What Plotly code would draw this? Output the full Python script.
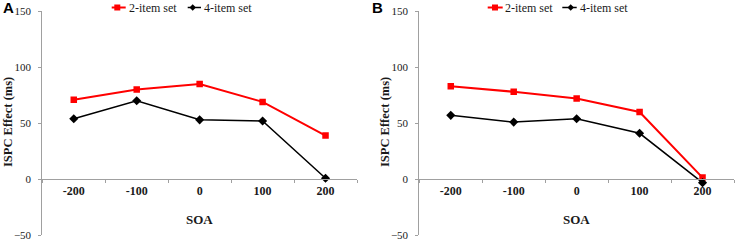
import plotly.graph_objects as go

# ---- data ----
soa = ["-200", "-100", "0", "100", "200"]
a_two_item = [71, 80, 85, 69, 39]
a_four_item = [54, 70, 53, 52, 1]
b_two_item = [83, 78, 72, 60, 1.5]
b_four_item = [57, 51, 54, 41, -3]
y_ticks = [-50, 0, 50, 100, 150]
series_names = ["2-item set", "4-item set"]

W, H = 737, 241
RED = "#FF0000"
BLACK = "#000000"
AXIS = "#A0A0A0"
TEXT = "#1a1a1a"
SERIF = "Liberation Serif, Times New Roman, serif"


def px(x):
    return x / W


def py(y):
    return 1 - y / H


fig = go.Figure()

panels = [
    ("x", "y", a_two_item, a_four_item),
    ("x2", "y2", b_two_item, b_four_item),
]
for xa, ya, two, four in panels:
    fig.add_trace(go.Scatter(
        x=soa, y=two, xaxis=xa, yaxis=ya, mode="lines+markers",
        name=series_names[0], showlegend=False,
        line=dict(color=RED, width=2),
        marker=dict(symbol="square", size=6.5, color=RED)))
    fig.add_trace(go.Scatter(
        x=soa, y=four, xaxis=xa, yaxis=ya, mode="lines+markers",
        name=series_names[1], showlegend=False,
        line=dict(color=BLACK, width=1.5),
        marker=dict(symbol="diamond", size=7, color=BLACK)))

y_dom = [py(235.4), py(11)]
x_pos = py(179.3)
x_doms = [[px(42.3), px(357)], [px(419.3), px(734)]]

common_x = dict(
    type="category", categoryorder="array", categoryarray=soa,
    range=[-0.5, 4.5], tickson="boundaries", ticks="outside", ticklen=3,
    tickcolor=AXIS, showline=True, linecolor=AXIS, linewidth=1,
    showgrid=False, zeroline=False, anchor="free", position=x_pos,
    tickfont=dict(family=SERIF, size=12, color=TEXT, weight="bold"),
    fixedrange=True, automargin=False, ticklabeloverflow="allow",
)
common_y = dict(
    range=[-50, 150], tickvals=y_ticks, ticks="outside", ticklen=3,
    tickcolor=AXIS, showline=True, linecolor=AXIS, linewidth=1,
    showgrid=False, zeroline=False, domain=y_dom,
    tickfont=dict(family=SERIF, size=11, color=TEXT),
    ticklabelstandoff=5, fixedrange=True, automargin=False,
    ticklabeloverflow="allow",
)

fig.update_layout(
    width=W, height=H,
    margin=dict(l=0, r=0, t=0, b=0, pad=0),
    plot_bgcolor="white", paper_bgcolor="white",
    showlegend=False,
    xaxis=dict(common_x, domain=x_doms[0]),
    yaxis=dict(common_y, anchor="x"),
    xaxis2=dict(common_x, domain=x_doms[1]),
    yaxis2=dict(common_y, anchor="x2"),
)

annotations = []
shapes = []
# panel letters, titles, legends
for label, x0, legend in [("A", 0, (111.7, 125.7, 117.3, 126.7, 187.7, 201, 192.7, 202)),
                           ("B", 369, (487.7, 502.7, 495, 503.3, 562.3, 576.7, 570.7, 578.3))]:
    annotations.append(dict(
        text="<b>%s</b>" % label, x=px(x0 + 1), y=py(8), xref="paper", yref="paper",
        xanchor="left", yanchor="middle", showarrow=False,
        font=dict(family="Liberation Sans, Arial, sans-serif", size=15, color=BLACK)))
    ax_left = 42.3 if label == "A" else 419.3
    annotations.append(dict(
        text="<b>ISPC Effect (ms)</b>", x=px(ax_left - 34.8), y=py(122.5),
        xref="paper", yref="paper", textangle=-90, showarrow=False,
        xanchor="center", yanchor="middle",
        font=dict(family=SERIF, size=12.5, color=TEXT)))
    annotations.append(dict(
        text="<b>SOA</b>", x=px(ax_left + (357 - 42.3) / 2), y=py(219),
        xref="paper", yref="paper", showarrow=False,
        xanchor="center", yanchor="middle",
        font=dict(family=SERIF, size=13, color=TEXT)))
    rl0, rl1, rm, rt, bl0, bl1, bm, bt = legend
    ly = 7.5
    # red legend sample
    shapes.append(dict(type="line", xref="paper", yref="paper",
                       x0=px(rl0), x1=px(rl1), y0=py(ly), y1=py(ly),
                       line=dict(color=RED, width=2)))
    shapes.append(dict(type="rect", xref="paper", yref="paper",
                       x0=px(rm - 3), x1=px(rm + 3), y0=py(ly - 3), y1=py(ly + 3),
                       fillcolor=RED, line=dict(width=0)))
    annotations.append(dict(
        text=series_names[0], x=px(rt), y=py(ly), xref="paper", yref="paper",
        xanchor="left", yanchor="middle", showarrow=False,
        font=dict(family=SERIF, size=12, color=TEXT)))
    # black legend sample
    shapes.append(dict(type="line", xref="paper", yref="paper",
                       x0=px(bl0), x1=px(bl1), y0=py(ly), y1=py(ly),
                       line=dict(color=BLACK, width=1.5)))
    d = 3.2
    shapes.append(dict(type="path", xref="paper", yref="paper",
                       path="M %f %f L %f %f L %f %f L %f %f Z" % (
                           px(bm - d), py(ly), px(bm), py(ly - d),
                           px(bm + d), py(ly), px(bm), py(ly + d)),
                       fillcolor=BLACK, line=dict(width=0)))
    annotations.append(dict(
        text=series_names[1], x=px(bt), y=py(ly), xref="paper", yref="paper",
        xanchor="left", yanchor="middle", showarrow=False,
        font=dict(family=SERIF, size=12, color=TEXT)))

fig.update_layout(annotations=annotations, shapes=shapes)

fig.write_html(
    "out.html",
    config={"displayModeBar": False},
    post_script="document.body.style.margin='0px';document.body.style.overflow='hidden';",
)
